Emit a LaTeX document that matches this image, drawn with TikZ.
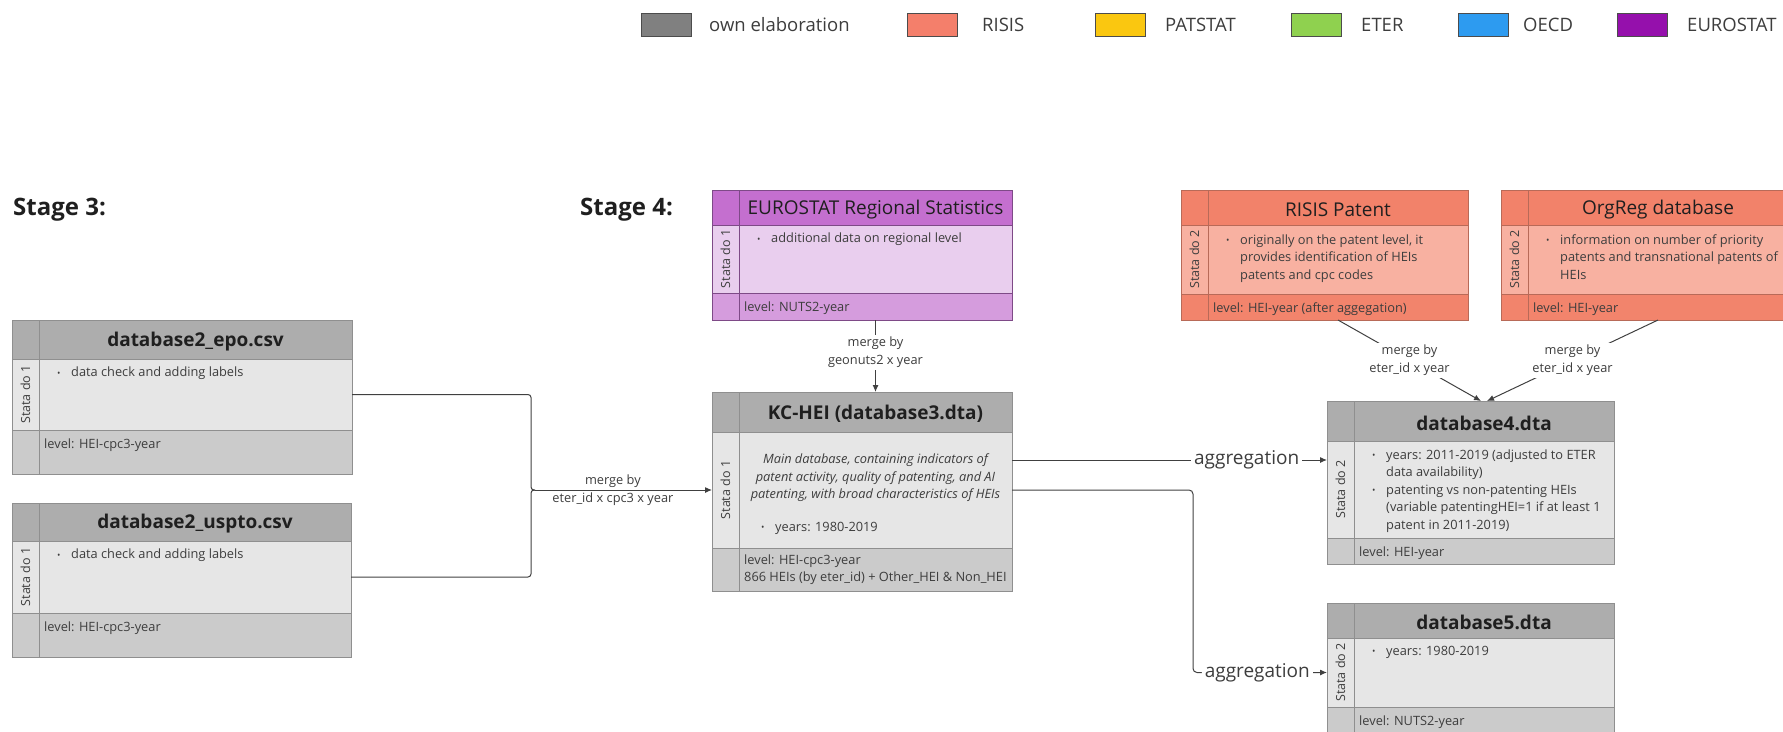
\documentclass[tikz,border=0pt]{standalone}
\usepackage{fontspec}
\setmainfont{Open Sans}
\usepackage{graphicx}
\usetikzlibrary{positioning,arrows.meta}

% colours of the tables
\definecolor{greyH}{HTML}{ADADAD}
\definecolor{greyB}{HTML}{E6E6E6}
\definecolor{greyF}{HTML}{CBCBCB}
\definecolor{greyD}{HTML}{8F8F8F}
\definecolor{purpH}{HTML}{C46FCF}
\definecolor{purpB}{HTML}{E9CEEE}
\definecolor{purpF}{HTML}{D59CDD}
\definecolor{purpD}{HTML}{7E4A87}
\definecolor{redH}{HTML}{F2826A}
\definecolor{redB}{HTML}{F8B1A1}
\definecolor{redF}{HTML}{F2846C}
\definecolor{redD}{HTML}{B86A58}
% colours of the legend
\definecolor{own}{HTML}{808080}
\definecolor{risis}{HTML}{F47F6B}
\definecolor{patstat}{HTML}{FAC710}
\definecolor{eter}{HTML}{8FD14F}
\definecolor{oecd}{HTML}{2D9BF0}
\definecolor{eurostat}{HTML}{9510AC}
\definecolor{txtC}{HTML}{3D3D3D}
\definecolor{ttlC}{HTML}{1F1F1F}
\definecolor{lineC}{HTML}{404040}

\tikzset{
  cell/.style={rectangle, inner sep=0, outer sep=0, line width=0.8pt, font=\fontsize{12.5}{15}\selectfont, text=txtC},
  ttl/.style={yshift=-2pt, font=\fontsize{19}{23}\selectfont\bfseries, text=ttlC},
  ttlr/.style={yshift=-2pt, font=\fontsize{19}{23}\selectfont, text=ttlC},
  body/.style={anchor=north west, align=left, inner sep=0, xshift=18pt, yshift=-8pt, font=\fontsize{12.8}{17.5}\selectfont, text=txtC},
  note/.style={anchor=north, align=center, inner sep=0, yshift=-21.5pt, font=\fontsize{12.8}{17.5}\selectfont\itshape, text=txtC},
  lvl/.style={anchor=north west, align=left, inner sep=0, xshift=5pt, yshift=-9pt, font=\fontsize{12.8}{17}\selectfont, text=txtC},
  lbl/.style={align=center, inner sep=2pt, font=\fontsize{12.8}{18}\selectfont, text=txtC},
  agg/.style={fill=white, inner sep=3pt, font=\fontsize{19}{23}\selectfont, text=txtC},
  stage/.style={anchor=west, inner sep=0, font=\fontsize{24}{28}\selectfont\bfseries, text=ttlC},
  key/.style={draw=black!70, line width=0.8pt, minimum width=50, minimum height=23, anchor=north west, inner sep=0},
  keytext/.style={anchor=west, inner sep=0, font=\fontsize{18.5}{22}\selectfont, text=txtC},
  wire/.style={draw=lineC, line width=1pt},
  link/.style={wire, -{Latex[length=7pt,width=6pt]}}
}

\newcommand\bul{\makebox[14pt][l]{\raisebox{0.5pt}{\fontsize{9}{9}\selectfont\textbullet}}}
\newcommand\indt{\hspace*{14pt}}

% name, x, y, width, head/body/foot height, colour, stata do
\newcommand\dbtab[9]{%
  \node[cell, draw=#8D, fill=#8H, minimum width=27, minimum height=#5, anchor=north west] (#1-sh) at (#2,#3) {};
  \node[cell, draw=#8D, fill=#8H, minimum width=#4, minimum height=#5, right=0pt of #1-sh] (#1-h) {};
  \node[cell, draw=#8D, fill=#8B, minimum width=27, minimum height=#6, below=0pt of #1-sh] (#1-sb) {\rotatebox{90}{Stata do #9}};
  \node[cell, draw=#8D, fill=#8B, minimum width=#4, minimum height=#6, right=0pt of #1-sb] (#1-b) {};
  \node[cell, draw=#8D, fill=#8F, minimum width=27, minimum height=#7, below=0pt of #1-sb] (#1-sf) {};
  \node[cell, draw=#8D, fill=#8F, minimum width=#4, minimum height=#7, right=0pt of #1-sf] (#1-f) {};
}

\begin{document}
\begin{tikzpicture}[x=1pt, y=-1pt]
\useasboundingbox (0,0) rectangle (1783,731);

% legend
\foreach \bx/\tx/\c/\l [count=\i] in {641/709/own/own elaboration, 907/982/risis/RISIS,
    1095/1165/patstat/PATSTAT, 1291/1361/eter/ETER, 1458/1523/oecd/OECD, 1617/1687/eurostat/EUROSTAT} {
  \node[key, fill=\c] (key\i) at (\bx,13) {};
  \node[keytext] (lab\i) at (\tx,24.5) {\l};
}

\node[stage] (st3) at (13,210) {Stage 3:};
\node[stage] (st4) at (580,210) {Stage 4:};

% stage 3
\dbtab{epo}{12}{320}{313}{39}{71}{44}{grey}{1}
\node[ttl] (epo-t) at (epo-h) {database2\_epo.csv};
\node[body] (epo-x) at (epo-b.north west) {\bul data check and adding labels};
\node[lvl] (epo-l) at (epo-f.north west) {level: HEI-cpc3-year};

\dbtab{usp}{12}{503}{312}{38}{72}{44}{grey}{1}
\node[ttl] (usp-t) at (usp-h) {database2\_uspto.csv};
\node[body] (usp-x) at (usp-b.north west) {\bul data check and adding labels};
\node[lvl] (usp-l) at (usp-f.north west) {level: HEI-cpc3-year};

% stage 4
\dbtab{eu}{712}{190}{273}{35}{68}{27}{purp}{1}
\node[ttlr] (eu-t) at (eu-h) {EUROSTAT Regional Statistics};
\node[body] (eu-x) at (eu-b.north west) {\bul additional data on regional level};
\node[lvl] (eu-l) at (eu-f.north west) {level: NUTS2-year};

\dbtab{kc}{712}{392}{273}{40}{116}{43}{grey}{1}
\node[ttl] (kc-t) at (kc-h) {KC-HEI (database3.dta)};
\node[note] (kc-x) at (kc-b.north)
  {Main database, containing indicators of\\patent activity, quality of patenting, and AI\\patenting, with broad characteristics of HEIs};
\node[body, xshift=4pt, yshift=-82pt] (kc-y) at (kc-b.north west) {\bul years: 1980-2019};
\node[lvl, yshift=2pt] (kc-l) at (kc-f.north west) {level: HEI-cpc3-year\\866 HEIs (by eter\_id) + Other\_HEI \& Non\_HEI};

\dbtab{ris}{1181}{190}{260}{35}{69}{26}{red}{2}
\node[ttlr] (ris-t) at (ris-h) {RISIS Patent};
\node[body, yshift=-1.5pt] (ris-x) at (ris-b.north west)
  {\bul originally on the patent level, it\\\indt provides identification of HEIs\\\indt patents and cpc codes};
\node[lvl] (ris-l) at (ris-f.north west) {level: HEI-year (after aggegation)};

\dbtab{org}{1501}{190}{260}{35}{69}{26}{red}{2}
\node[ttlr] (org-t) at (org-h) {OrgReg database};
\node[body, yshift=-1.5pt] (org-x) at (org-b.north west)
  {\bul information on number of priority\\\indt patents and transnational patents of\\\indt HEIs};
\node[lvl] (org-l) at (org-f.north west) {level: HEI-year};

\dbtab{db4}{1327}{401}{260}{40}{97}{26}{grey}{2}
\node[ttl] (db4-t) at (db4-h) {database4.dta};
\node[body, yshift=-0.5pt] (db4-x) at (db4-b.north west)
  {\bul years: 2011-2019 (adjusted to ETER\\\indt data availability)\\\bul patenting vs non-patenting HEIs\\\indt (variable patentingHEI=1 if at least 1\\\indt patent in 2011-2019)};
\node[lvl] (db4-l) at (db4-f.north west) {level: HEI-year};

\dbtab{db5}{1327}{603}{260}{35}{69}{26}{grey}{2}
\node[ttl] (db5-t) at (db5-h) {database5.dta};
\node[body] (db5-x) at (db5-b.north west) {\bul years: 1980-2019};
\node[lvl] (db5-l) at (db5-f.north west) {level: NUTS2-year};

% connectors
\coordinate (join) at (535,490);
\draw[wire, rounded corners=3pt] (epo-b.east) -| ([xshift=-4pt]join) -- (join);
\draw[wire, rounded corners=3pt] (usp-b.east) -| ([xshift=-4pt]join) -- (join);
\draw[link] (join) -- node[lbl, pos=0.44]{merge by\\eter\_id x cpc3 x year} (kc-sb.west);

\draw[link] (eu-f.south) -- node[lbl, fill=white, pos=0.45]{merge by\\geonuts2 x year} (kc-h.north);
\draw[link] (ris-f.south) -- node[lbl, fill=white]{merge by\\eter\_id x year} ([xshift=-3pt]db4-h.north);
\draw[link] (org-f.south) -- node[lbl, fill=white]{merge by\\eter\_id x year} ([xshift=3pt]db4-h.north);

\coordinate (agg1) at ([yshift=30pt]kc-b.east);
\draw[link] (agg1) -- node[agg, pos=0.745]{aggregation} (agg1 -| db4-sb.west);
\draw[link, rounded corners=4pt] (kc-b.east) -| ([xshift=-134pt]db5-sb.west) -- node[agg, pos=0.48]{aggregation} (db5-sb.west);
\end{tikzpicture}
\end{document}
